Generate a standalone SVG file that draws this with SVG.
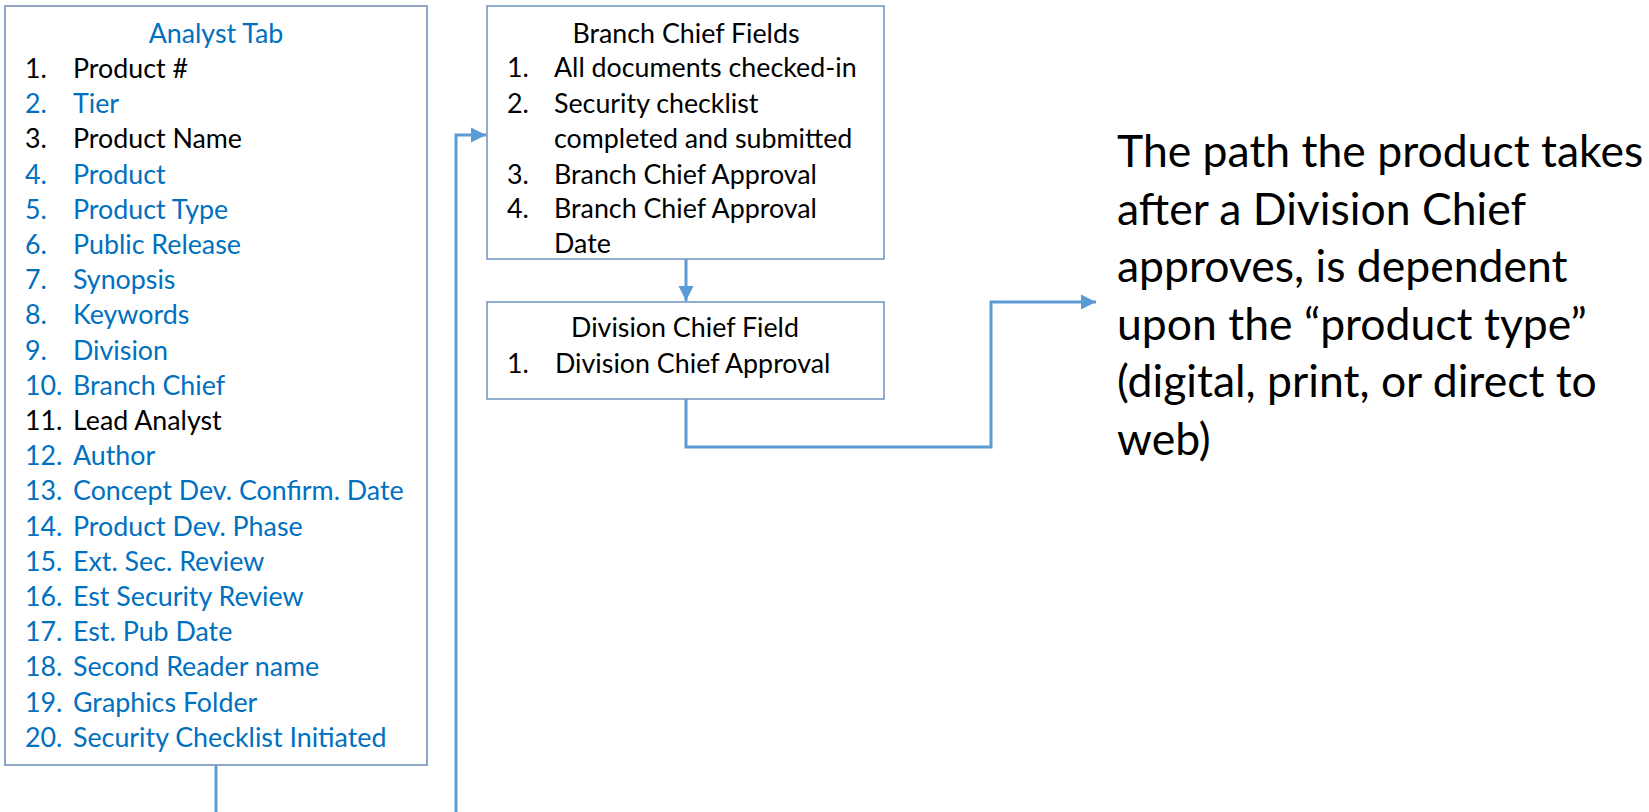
<svg xmlns="http://www.w3.org/2000/svg" width="1649" height="812" viewBox="0 0 1649 812">
  <defs>
    <marker id="arrow" markerUnits="userSpaceOnUse" markerWidth="16" markerHeight="16" viewBox="0 0 16 16" refX="15" refY="8" orient="auto">
      <path d="M0,0.5 L15,8 L0,15.5 Z" fill="#5B9BD5"/>
    </marker>
    <style>
      .box { fill: #FFFFFF; stroke: #6F93BE; stroke-width: 1.5; }
      .box-a { fill: #FFFFFF; stroke: #8EA6C4; stroke-width: 2; }
      .t { font-family: Lato, "Liberation Sans", sans-serif; font-size: 26.8px; fill: #000000; }
      .b { fill: #0070C0; }
      .mid { text-anchor: middle; }
      .note { font-family: Lato, "Liberation Sans", sans-serif; font-size: 44.5px; fill: #000000; }
      .conn { fill: none; stroke: #5B9BD5; stroke-width: 3; }
    </style>
  </defs>

  <rect width="1649" height="812" fill="#FFFFFF"/>

  <!-- connectors -->
  <g id="connectors">
    <path class="conn" d="M216,765 L216,812"/>
    <path class="conn" d="M456,812 L456,135 L486,135" marker-end="url(#arrow)"/>
    <path class="conn" d="M686,259 L686,301" marker-end="url(#arrow)"/>
    <path class="conn" d="M686,399 L686,447 L991,447 L991,302 L1096,302" marker-end="url(#arrow)"/>
  </g>

  <!-- analyst tab field list -->
  <g id="analyst-tab">
    <rect class="box-a" x="5" y="6" width="422" height="759"/>
    <text class="t b mid" x="216" y="43">Analyst Tab</text>
    <g class="t">
      <text x="25" y="78">1.</text><text x="73" y="78">Product #</text>
      <text class="b" x="25" y="113">2.</text><text class="b" x="73" y="113">Tier</text>
      <text x="25" y="148">3.</text><text x="73" y="148">Product Name</text>
      <text class="b" x="25" y="184">4.</text><text class="b" x="73" y="184">Product</text>
      <text class="b" x="25" y="219">5.</text><text class="b" x="73" y="219">Product Type</text>
      <text class="b" x="25" y="254">6.</text><text class="b" x="73" y="254">Public Release</text>
      <text class="b" x="25" y="289">7.</text><text class="b" x="73" y="289">Synopsis</text>
      <text class="b" x="25" y="324">8.</text><text class="b" x="73" y="324">Keywords</text>
      <text class="b" x="25" y="360">9.</text><text class="b" x="73" y="360">Division</text>
      <text class="b" x="25" y="395">10.</text><text class="b" x="73" y="395">Branch Chief</text>
      <text x="25" y="430">11.</text><text x="73" y="430">Lead Analyst</text>
      <text class="b" x="25" y="465">12.</text><text class="b" x="73" y="465">Author</text>
      <text class="b" x="25" y="500">13.</text><text class="b" x="73" y="500">Concept Dev. Confirm. Date</text>
      <text class="b" x="25" y="536">14.</text><text class="b" x="73" y="536">Product Dev. Phase</text>
      <text class="b" x="25" y="571">15.</text><text class="b" x="73" y="571">Ext. Sec. Review</text>
      <text class="b" x="25" y="606">16.</text><text class="b" x="73" y="606">Est Security Review</text>
      <text class="b" x="25" y="641">17.</text><text class="b" x="73" y="641">Est. Pub Date</text>
      <text class="b" x="25" y="676">18.</text><text class="b" x="73" y="676">Second Reader name</text>
      <text class="b" x="25" y="712">19.</text><text class="b" x="73" y="712">Graphics Folder</text>
      <text class="b" x="25" y="747">20.</text><text class="b" x="73" y="747">Security Checklist Initiated</text>
    </g>
  </g>

  <!-- branch chief fields -->
  <g id="branch-chief">
    <rect class="box" x="487" y="6" width="397" height="253"/>
    <text class="t mid" x="686" y="43">Branch Chief Fields</text>
    <g class="t">
      <text x="507" y="77">1.</text><text x="554" y="77">All documents checked-in</text>
      <text x="507" y="113">2.</text><text x="554" y="113">Security checklist</text>
      <text x="554" y="148">completed and submitted</text>
      <text x="507" y="184">3.</text><text x="554" y="184">Branch Chief Approval</text>
      <text x="507" y="218">4.</text><text x="554" y="218">Branch Chief Approval</text>
      <text x="554" y="253">Date</text>
    </g>
  </g>

  <!-- division chief field -->
  <g id="division-chief">
    <rect class="box" x="487" y="302" width="397" height="97"/>
    <text class="t mid" x="685" y="337">Division Chief Field</text>
    <g class="t">
      <text x="507" y="373">1.</text><text x="555" y="373">Division Chief Approval</text>
    </g>
  </g>

  <!-- outcome note -->
  <g id="outcome-note">
    <text class="note">
      <tspan x="1117" y="167">The path the product takes</tspan>
      <tspan x="1117" y="224.6">after a Division Chief</tspan>
      <tspan x="1117" y="282.2">approves, is dependent</tspan>
      <tspan x="1117" y="339.8">upon the “product type”</tspan>
      <tspan x="1117" y="397.4">(digital, print, or direct to</tspan>
      <tspan x="1117" y="455">web)</tspan>
    </text>
  </g>
</svg>
